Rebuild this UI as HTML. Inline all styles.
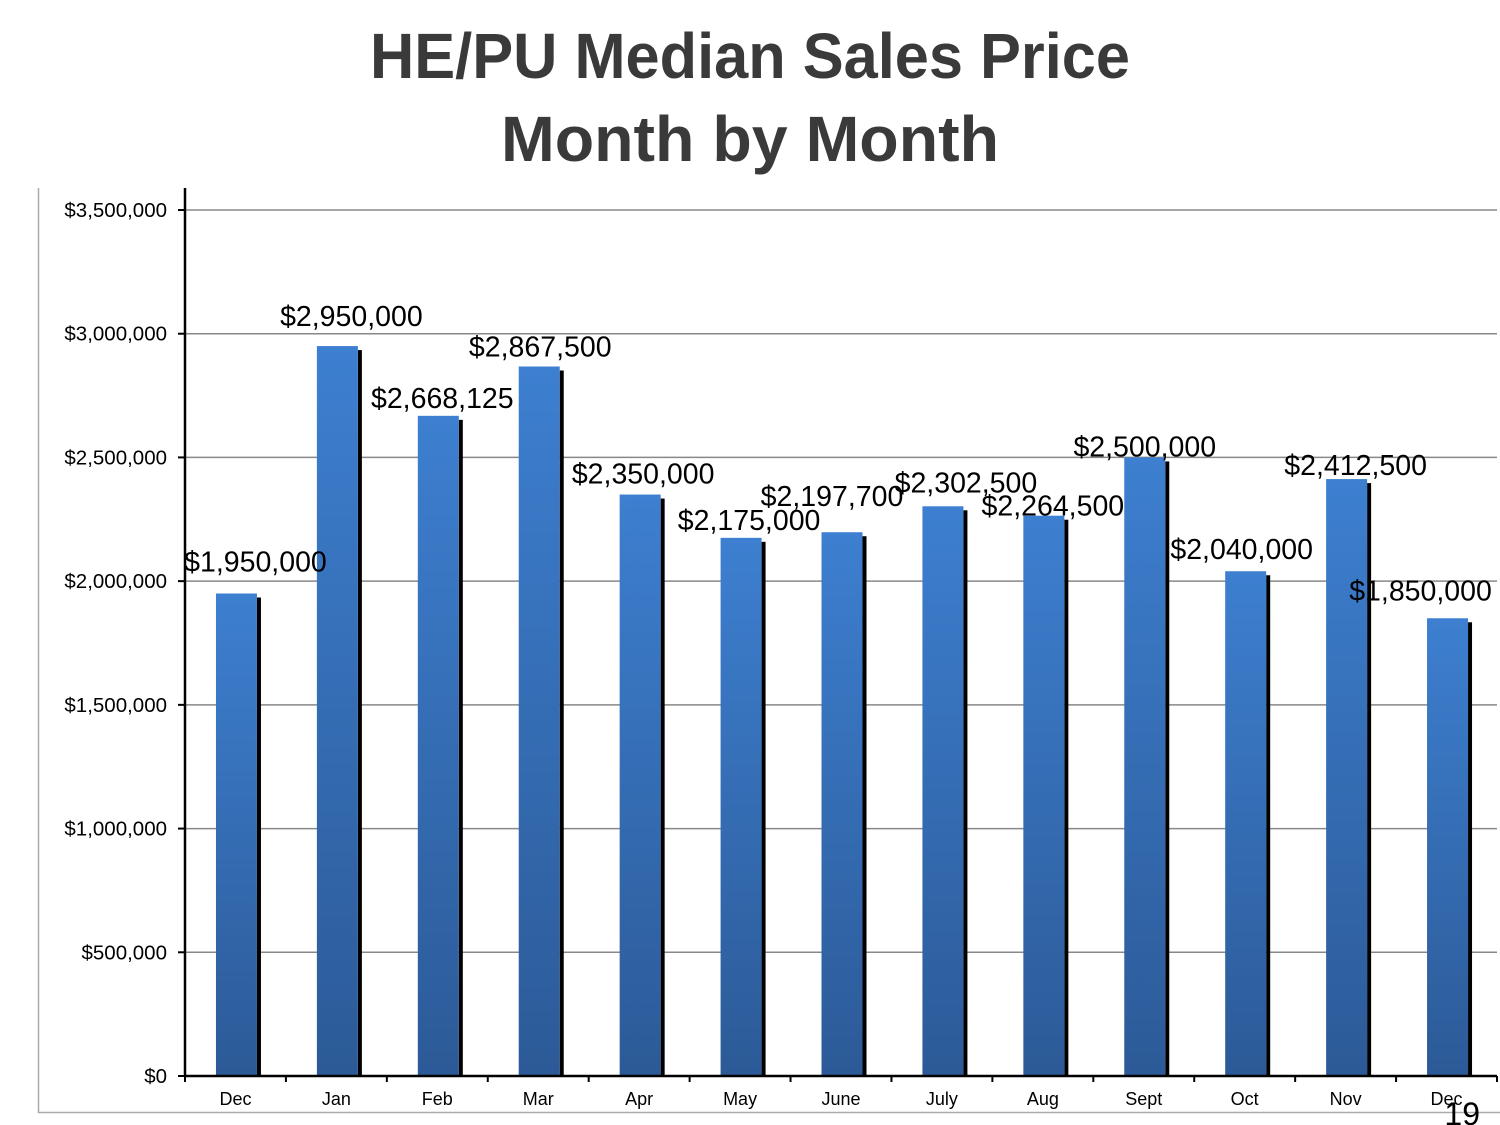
<!DOCTYPE html>
<html><head><meta charset="utf-8"><style>
html,body{margin:0;padding:0;background:#fff;}
svg{display:block;font-family:"Liberation Sans",Arial,sans-serif;}
</style></head><body>
<svg id="chart" width="1500" height="1125" viewBox="0 0 1500 1125" xmlns="http://www.w3.org/2000/svg">
<defs>
<linearGradient id="barGrad" x1="0" y1="0" x2="0" y2="1">
<stop offset="0" stop-color="#3d7fd0"/><stop offset="1" stop-color="#2c5a97"/>
</linearGradient>
</defs>
<text x="750" y="78" text-anchor="middle" font-size="64" font-weight="bold" fill="#3a3a3a" textLength="760" lengthAdjust="spacingAndGlyphs">HE/PU Median Sales Price</text>
<text x="750" y="161" text-anchor="middle" font-size="64" font-weight="bold" fill="#3a3a3a" textLength="498" lengthAdjust="spacingAndGlyphs">Month by Month</text>
<line x1="38.5" y1="188" x2="38.5" y2="1113" stroke="#aaa" stroke-width="1.5"/>
<line x1="38" y1="1112.5" x2="1500" y2="1112.5" stroke="#aaa" stroke-width="1.5"/>
<g id="grid"></g><g id="bars"></g><g id="axes"></g><g id="labels"></g>
<text x="1480" y="1125" text-anchor="end" font-size="32" fill="#000">19</text>
</svg>
<script>
const categories = ["Dec","Jan","Feb","Mar","Apr","May","June","July","Aug","Sept","Oct","Nov","Dec"];
const values = [1950000,2950000,2668125,2867500,2350000,2175000,2197700,2302500,2264500,2500000,2040000,2412500,1850000];
const valueLabels = ["$1,950,000","$2,950,000","$2,668,125","$2,867,500","$2,350,000","$2,175,000","$2,197,700","$2,302,500","$2,264,500","$2,500,000","$2,040,000","$2,412,500","$1,850,000"];
const yTicks = [0,500000,1000000,1500000,2000000,2500000,3000000,3500000];
const yTickLabels = ["$0","$500,000","$1,000,000","$1,500,000","$2,000,000","$2,500,000","$3,000,000","$3,500,000"];
// label placement tweaks (layout only)
const labelDx = [20,15,5,2,4,9,-9,24,10,1,-3,10,-26];
const labelDy = [-32,-30,-18,-20,-21,-18,-36,-24,-10,-11,-22,-14,-28];

const NS="http://www.w3.org/2000/svg";
const L=185,R=1497,T=188,B=1076,yMax=3500000,yTop=210;
const step=(R-L)/categories.length;
const y=v=>B-(v/yMax)*(B-yTop);
const xc=i=>L+step*(i+0.5);
function mk(tag,attrs,parent){const e=document.createElementNS(NS,tag);for(const k in attrs)e.setAttribute(k,attrs[k]);parent.appendChild(e);return e;}
const grid=document.getElementById('grid'),bars=document.getElementById('bars'),axes=document.getElementById('axes'),labels=document.getElementById('labels');
yTicks.forEach((t,i)=>{
  if(t>0){const g=mk('line',{x1:L,x2:R,y1:y(t),y2:y(t),stroke:'#888','stroke-width':1.5},grid);
  
  }
  const tk=mk('line',{x1:178,x2:L,y1:y(t),y2:y(t),stroke:'#000','stroke-width':2},axes);
  
  
  const tx=mk('text',{x:167,y:y(t)+7,'text-anchor':'end','font-size':20.5,fill:'#000'},axes);
  tx.textContent=yTickLabels[i];
  
  
});
const bw=41;
values.forEach((v,i)=>{
  const x0=xc(i)-bw/2+1, top=y(v);
  const sh=mk('rect',{x:x0+bw,y:top+4,width:4,height:B-top-4,fill:'#000'},bars);
  
  
  const r=mk('rect',{x:x0,y:top,width:bw,height:B-top,fill:'url(#barGrad)'},bars);
  
  
  const lb=mk('text',{x:xc(i)+labelDx[i],y:top+labelDy[i]+10,'text-anchor':'middle','font-size':28.5,fill:'#000'},labels);
  lb.textContent=valueLabels[i];
  
  
  const cl=mk('text',{x:xc(i),y:1105,'text-anchor':'middle','font-size':18,fill:'#000'},axes);
  cl.textContent=categories[i];
  
  
});
for(let k=0;k<=categories.length;k++){
  const t=mk('line',{x1:L+step*k,x2:L+step*k,y1:B,y2:B+6,stroke:'#000','stroke-width':2},axes);
  
  
}
const ya=mk('line',{x1:L,x2:L,y1:T,y2:B,stroke:'#000','stroke-width':2.5},axes);


const xa=mk('line',{x1:L,x2:R,y1:B,y2:B,stroke:'#000','stroke-width':2.5},axes);


</script>
</body></html>
